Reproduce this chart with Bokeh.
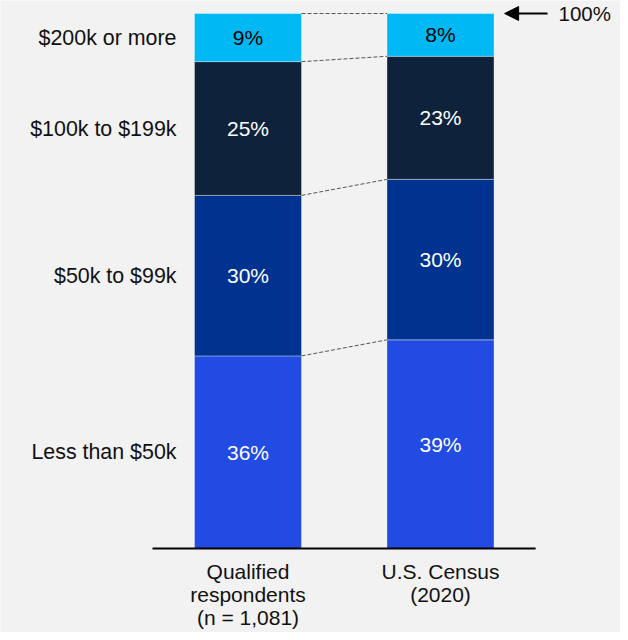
from bokeh.plotting import figure
from bokeh.models import Range1d, ColumnDataSource, Arrow, NormalHead, Label
from bokeh.core.properties import value
from bokeh.embed import file_html
from bokeh.resources import INLINE

# ---- data ----
categories = ["Less than $50k", "$50k to $99k", "$100k to $199k", "$200k or more"]
groups = ["Qualified\nrespondents\n(n = 1,081)", "U.S. Census\n(2020)"]
respondents = [36, 30, 25, 9]
census = [39, 30, 23, 8]
seg_colors = ["#214BE2", "#00338F", "#0E233B", "#00B8F4"]
label_colors = ["white", "white", "white", "black"]
total_label = "100%"

FONT = value("Liberation Sans")
FS = value("21px")
BG = "#F2F2F2"
W = 0.556  # bar width in x units

p = figure(width=620, height=632, x_range=Range1d(-1.2857, 1.935),
           y_range=Range1d(-15.70, 102.43), output_backend="svg",
           toolbar_location=None, min_border=0,
           x_axis_type=None, y_axis_type=None,
           background_fill_color=BG, border_fill_color=BG)
p.grid.visible = False
p.outline_line_color = None

series = [respondents, census]
cums = []
for gi, vals in enumerate(series):
    bottoms, tops = [], []
    c = 0
    for v in vals:
        bottoms.append(c)
        c += v
        tops.append(c)
    cums.append(tops)
    src = ColumnDataSource(dict(
        x=[gi] * len(vals), bottom=bottoms, top=tops, color=seg_colors,
        mid=[(b + t) / 2 for b, t in zip(bottoms, tops)],
        lab=[f"{v}%" for v in vals], tc=label_colors))
    p.vbar(x="x", width=W, bottom="bottom", top="top", fill_color="color",
           line_color="white", line_alpha=0.35, line_width=1, source=src)
    p.text(x="x", y="mid", text="lab", text_color="tc", text_font=FONT,
           text_font_size=FS, text_align="center", text_baseline="middle",
           source=src)

# connectors
p.segment(x0=[0 + W / 2] * 4, y0=cums[0], x1=[1 - W / 2] * 4, y1=cums[1],
          line_color="#555555", line_dash="4 2", line_width=1)

# category labels next to first bar
mids0 = [(t - v / 2) for t, v in zip(cums[0], respondents)]
p.text(x=[-W / 2] * 4, y=mids0, text=categories, x_offset=-18,
       text_font=FONT, text_font_size=value("21.4px"), text_align="right",
       text_baseline="middle", text_color="#111111")

# baseline axis line
p.segment(x0=[-0.496], y0=[0], x1=[1.494], y1=[0], line_color="black", line_width=2)

# group labels
p.text(x=[0, 1], y=[0, 0], text=groups, y_offset=11, text_font=FONT,
       text_font_size=FS, text_align="center", text_baseline="top",
       text_line_height=1.0, text_color="#111111")

# 100% arrow
p.add_layout(Arrow(end=NormalHead(size=14, fill_color="black", line_color="black"),
                   x_start=1.556, y_start=100, x_end=1.333, y_end=100,
                   line_width=2, line_color="black"))
p.add_layout(Label(x=1.613, y=100, text=total_label, text_baseline="middle",
                   text_font="Liberation Sans", text_font_size="20.5px",
                   text_color="#111111"))

open("out.html", "w").write(file_html(p, INLINE))
